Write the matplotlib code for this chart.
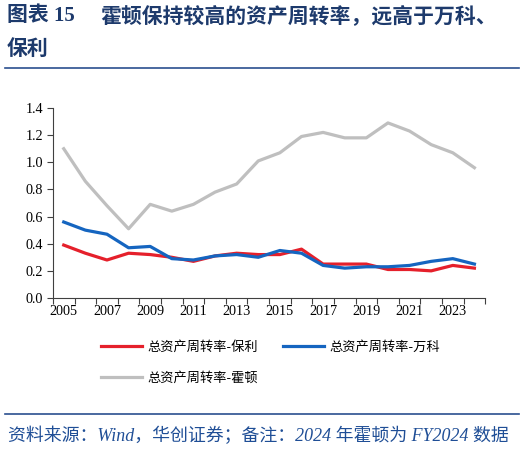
import matplotlib
matplotlib.use("Agg")
import matplotlib.pyplot as plt
from matplotlib.ticker import FixedLocator, NullFormatter, FixedFormatter

plt.rcParams['font.family'] = ['Noto Sans CJK SC', 'DejaVu Sans']

years = list(range(2005, 2025))
poly = [0.39, 0.33, 0.28, 0.33, 0.32, 0.30, 0.27, 0.31, 0.33, 0.32,
        0.32, 0.36, 0.25, 0.25, 0.25, 0.21, 0.21, 0.20, 0.24, 0.22]
vanke = [0.56, 0.50, 0.47, 0.37, 0.38, 0.29, 0.28, 0.31, 0.32, 0.30,
         0.35, 0.33, 0.24, 0.22, 0.23, 0.23, 0.24, 0.27, 0.29, 0.25]
horton = [1.10, 0.86, 0.68, 0.51, 0.69, 0.64, 0.69, 0.78, 0.84, 1.01,
          1.07, 1.19, 1.22, 1.18, 1.18, 1.29, 1.23, 1.13, 1.07, 0.96]
labels = ["总资产周转率-保利", "总资产周转率-万科", "总资产周转率-霍顿"]
yticks = [0.0, 0.2, 0.4, 0.6, 0.8, 1.0, 1.2, 1.4]

navy = "#1d3a6c"
serif = ['Liberation Serif', 'Noto Sans CJK SC']

fig = plt.figure(figsize=(5.24, 4.49), dpi=100)
ax = fig.add_axes([0.101, 0.3363, 0.825, 0.4232])

x = list(range(len(years)))
l_poly, = ax.plot(x, poly, color="#e5202b", lw=2.3, label=labels[0])
l_vanke, = ax.plot(x, vanke, color="#1565c0", lw=2.3, label=labels[1])
l_horton, = ax.plot(x, horton, color="#bfbfbf", lw=2.3, label=labels[2])

ax.set_xlim(-0.5, len(years) - 0.5)
ax.set_ylim(0, 1.4)
ax.set_yticks(yticks)
ax.set_yticklabels([f"{v:.1f}" for v in yticks], family=serif, fontsize=10.2)

# category axis: ticks at boundaries, labels at every other category
ax.xaxis.set_major_locator(FixedLocator([i - 0.5 for i in range(len(years) + 1)]))
ax.xaxis.set_major_formatter(NullFormatter())
lab_pos = list(range(0, len(years), 2))
ax.xaxis.set_minor_locator(FixedLocator(lab_pos))
ax.xaxis.set_minor_formatter(FixedFormatter([str(years[i]) for i in lab_pos]))
ax.tick_params(axis="x", which="major", length=4, color="#404040", width=0.8)
ax.tick_params(axis="x", which="minor", length=0, pad=5)
ax.tick_params(axis="y", length=4, color="#404040", width=0.8, pad=3)
for t in ax.xaxis.get_minorticklabels():
    t.set_family(serif)
    t.set_fontsize(10.2)

for s in ["top", "right"]:
    ax.spines[s].set_visible(False)
for s in ["left", "bottom"]:
    ax.spines[s].set_color("#404040")
    ax.spines[s].set_linewidth(0.8)

fig.legend([l_poly, l_horton, l_vanke], [labels[0], labels[2], labels[1]],
           ncol=2, loc="upper left", bbox_to_anchor=(101 / 524, 1 - 341 / 449),
           frameon=False, fontsize=9.5, handlelength=3.1, handletextpad=0.4,
           columnspacing=1.9, labelspacing=1.35, borderpad=0, borderaxespad=0)

# title
fig.text(7 / 524, 1 - 16 / 449, "图表 15", color=navy, fontsize=15,
         fontweight="bold", family=serif, va="center")
fig.text(100 / 524, 1 - 16 / 449, "霍顿保持较高的资产周转率，远高于万科、", color=navy,
         fontsize=15, fontweight="bold", va="center")
fig.text(7 / 524, 1 - 48 / 449, "保利", color=navy, fontsize=15,
         fontweight="bold", va="center")

# separator lines
fig.add_artist(plt.Line2D([5 / 524, 519 / 524], [1 - 68 / 449, 1 - 68 / 449],
                          color="#2a4f8f", lw=1.2))
fig.add_artist(plt.Line2D([5 / 524, 519 / 524], [1 - 414 / 449, 1 - 414 / 449],
                          color="#2a4f8f", lw=1.2))

fig.text(8 / 524, 1 - 436 / 449,
         "资料来源：Wind，华创证券；备注：2024 年霍顿为 FY2024 数据",
         color="#1f4e96", fontsize=12.9, style="italic", va="center",
         family=['Liberation Serif', 'Noto Sans CJK SC'])

fig.savefig("out.png", dpi=100)
